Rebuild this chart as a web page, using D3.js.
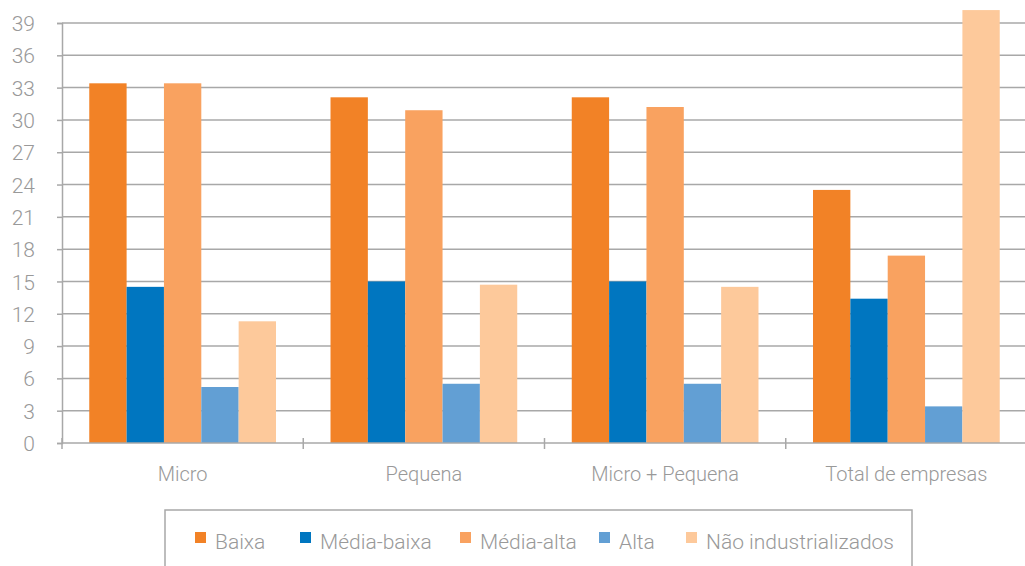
<!DOCTYPE html>
<html>
<head>
<meta charset="utf-8">
<script src="https://cdn.jsdelivr.net/npm/d3@7"></script>
<style>
  body { margin: 0; background: #fff; }
  svg text { font-family: Roboto, "Liberation Sans", sans-serif; font-weight: 300; fill: #999999; }
</style>
</head>
<body>
<div id="chart"></div>
<script>
let svgWidth = 1025;
let svgHeight = 566;

// Data

let categories = ["Micro", "Pequena", "Micro + Pequena", "Total de empresas"];
let seriesNames = ["Baixa", "Média-baixa", "Média-alta", "Alta", "Não industrializados"];
let baixa = [33.4, 32.1, 32.1, 23.5];
let mediaBaixa = [14.5, 15.0, 15.0, 13.4];
let mediaAlta = [33.4, 30.9, 31.2, 17.4];
let alta = [5.2, 5.5, 5.5, 3.4];
let naoIndustrializados = [11.3, 14.7, 14.5, 40.2];
let yTicks = [0, 3, 6, 9, 12, 15, 18, 21, 24, 27, 30, 33, 36, 39];
let colors = ["#f28226", "#0076c0", "#f9a260", "#629fd4", "#fdc99b"];

let seriesValues = [baixa, mediaBaixa, mediaAlta, alta, naoIndustrializados];

let svg = d3.select("#chart").append("svg").attr("width", svgWidth).attr("height", svgHeight);

let x0 = 62, x1 = 1027, y0 = 443, yTop = 23;

let xScale = d3.scaleBand().domain(categories).range([x0, x1]).paddingInner(0).paddingOuter(0);
let xInner = d3.scaleBand().domain(seriesNames).range([0, xScale.bandwidth()]).paddingInner(0).paddingOuter(0.73);
let yScale = d3.scaleLinear().domain([0, 39]).range([y0, yTop]);

// Gridlines
svg.append("g")
  .selectAll("line")
  .data(yTicks.filter(d => d > 0))
  .enter()
  .append("line")
  .attr("x1", x0)
  .attr("x2", svgWidth)
  .attr("y1", d => yScale(d))
  .attr("y2", d => yScale(d))
  .attr("stroke", "#a8a8a8")
  .attr("stroke-width", 1.5);

// Y axis
let yAxis = svg.append("g")
  .attr("transform", `translate(${x0},0)`)
  .call(d3.axisLeft(yScale).tickValues(yTicks).tickSize(5).tickPadding(22));
yAxis.select(".domain").attr("stroke", "#a8a8a8").attr("stroke-width", 1.5);
yAxis.selectAll(".tick line").attr("stroke", "#a8a8a8").attr("stroke-width", 1.5);
yAxis.selectAll("text").attr("font-size", 21).attr("fill", "#999999").attr("dy", "0.36em");

// Bars
let groups = svg.append("g")
  .selectAll("g")
  .data(seriesNames)
  .enter()
  .append("g")
  .attr("fill", (d, i) => colors[i]);

groups.selectAll("rect")
  .data((s, i) => categories.map((c, j) => ({ cat: c, name: s, value: seriesValues[i][j] })))
  .enter()
  .append("rect")
  .attr("x", d => xScale(d.cat) + xInner(d.name))
  .attr("width", xInner.bandwidth())
  .attr("y", d => yScale(d.value))
  .attr("height", d => y0 - yScale(d.value));

// X axis
svg.append("line")
  .attr("x1", x0).attr("x2", svgWidth)
  .attr("y1", y0).attr("y2", y0)
  .attr("stroke", "#a8a8a8").attr("stroke-width", 1.5);

let boundaries = categories.map(c => xScale(c));
svg.append("g")
  .selectAll("line")
  .data(boundaries)
  .enter()
  .append("line")
  .attr("x1", d => d).attr("x2", d => d)
  .attr("y1", y0 - 5).attr("y2", y0 + 6)
  .attr("stroke", "#a8a8a8").attr("stroke-width", 1.5);

svg.append("g")
  .selectAll("text")
  .data(categories)
  .enter()
  .append("text")
  .attr("x", d => xScale(d) + xScale.bandwidth() / 2)
  .attr("y", 481)
  .attr("text-anchor", "middle")
  .attr("font-size", 20)
  .text(d => d);

// Legend
svg.append("rect")
  .attr("x", 165).attr("y", 510)
  .attr("width", 747).attr("height", 80)
  .attr("fill", "none")
  .attr("stroke", "#a8a8a8").attr("stroke-width", 1.5);

let legendX = [195, 300, 460, 599, 686];
let legend = svg.append("g")
  .selectAll("g")
  .data(seriesNames)
  .enter()
  .append("g")
  .attr("transform", (d, i) => `translate(${legendX[i]}, 532)`);

legend.append("rect")
  .attr("width", 11).attr("height", 11)
  .attr("fill", (d, i) => colors[i]);

legend.append("text")
  .attr("x", 20)
  .attr("y", 17)
  .attr("font-size", 21)
  .text(d => d);
</script>
</body>
</html>
